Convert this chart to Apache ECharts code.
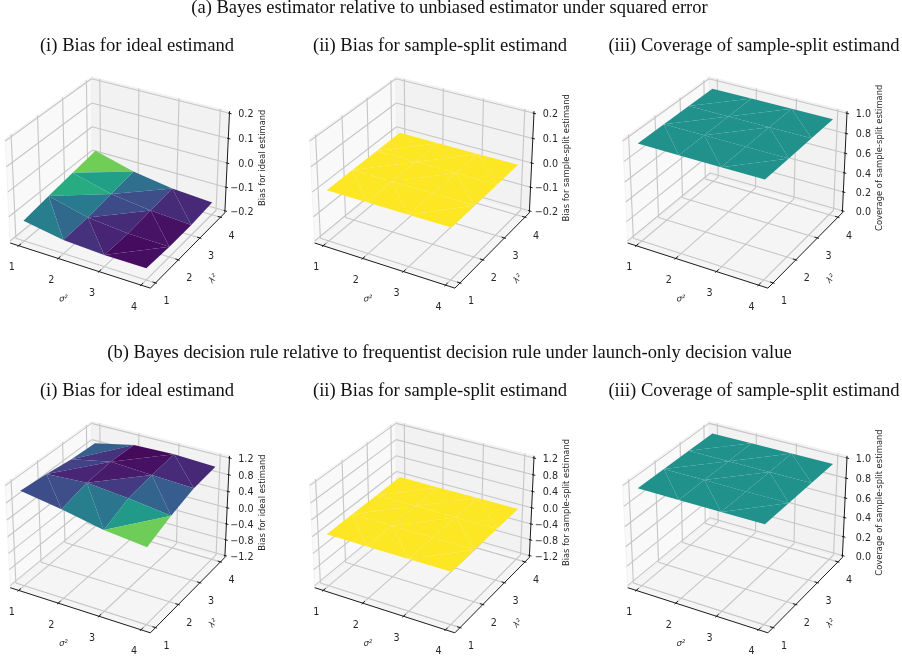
<!DOCTYPE html>
<html><head><meta charset="utf-8"><style>html,body{margin:0;padding:0;background:#fff}#c{width:902px;height:662px}</style>
<script src="https://cdn.jsdelivr.net/npm/echarts@6/dist/echarts.min.js"></script></head>
<body><div id="c"></div>
<script>
// ---- data ----
const sigma2 = [1, 2, 3, 4];
const lambda2 = [1, 2, 3, 4];
// rows: lambda2 = 1..4, columns: sigma2 = 1..4
const biasIdealA = [
  [-0.124, -0.152, -0.161, -0.161],
  [-0.107, -0.147, -0.163, -0.166],
  [-0.091, -0.134, -0.155, -0.165],
  [-0.076, -0.120, -0.145, -0.157]];
const biasSplitA = [
  [0, 0, 0, 0],
  [0, 0, 0, 0],
  [0, 0, 0, 0],
  [0, 0, 0, 0]];
const coverageA = [
  [0.957, 0.957, 0.957, 0.957],
  [0.957, 0.957, 0.957, 0.957],
  [0.957, 0.957, 0.957, 0.957],
  [0.957, 0.957, 0.957, 0.957]];
const biasIdealB = [
  [1.042, 0.881, 0.684, 0.575],
  [0.980, 1.036, 0.936, 0.809],
  [0.891, 1.086, 1.025, 0.974],
  [0.853, 1.056, 1.078, 1.035]];
const biasSplitB = [
  [0.012, 0.012, 0.012, 0.012],
  [0.012, 0.012, 0.012, 0.012],
  [0.012, 0.012, 0.012, 0.012],
  [0.012, 0.012, 0.012, 0.012]];
const coverageB = [
  [0.957, 0.957, 0.957, 0.957],
  [0.957, 0.957, 0.957, 0.957],
  [0.957, 0.957, 0.957, 0.957],
  [0.957, 0.957, 0.957, 0.957]];
// cell diagonals of the triangulation, rows lambda2 = 1..3, columns sigma2 = 1..3
const cellDiagonals = [['B','B','A'],['A','A','B'],['A','A','B']];
const zTicksSmall = [-0.2, -0.1, 0, 0.1, 0.2];
const zTicksWide = [-1.2, -0.8, -0.4, 0, 0.4, 0.8, 1.2];
const zTicksCoverage = [0, 0.2, 0.4, 0.6, 0.8, 1];
const sectionTitles = ['(a) Bayes estimator relative to unbiased estimator under squared error',
  '(b) Bayes decision rule relative to frequentist decision rule under launch-only decision value'];
const panelTitles = ['(i) Bias for ideal estimand','(ii) Bias for sample-split estimand','(iii) Coverage of sample-split estimand'];
const zLabels = ['Bias for ideal estimand','Bias for sample-split estimand','Coverage of sample-split estimand'];
const viridis = ['#440154','#482475','#414487','#355f8d','#2a788e','#21918c','#22a884','#44bf70','#7ad151','#bddf26','#fde725'];

// ---- panels ----
const colX = [119.5, 424, 737], rowY = [177.3, 522];
const SX = 1349, SY = 1330, VIEW = [-0.08, 0.1];
const panels = [
  {c:0,r:0,z:biasIdealA,ticks:zTicksSmall,lim:[-0.2,0.2],col:[-0.166,-0.076],lab:0},
  {c:1,r:0,z:biasSplitA,ticks:zTicksSmall,lim:[-0.2,0.2],col:[-1,0],lab:1},
  {c:2,r:0,z:coverageA,ticks:zTicksCoverage,lim:[0,1],col:[0.907,1.007],lab:2},
  {c:0,r:1,z:biasIdealB,ticks:zTicksWide,lim:[-1.2,1.2],col:[1.086,0.575],lab:0},
  {c:1,r:1,z:biasSplitB,ticks:zTicksWide,lim:[-1.2,1.2],col:[-1,0],lab:1},
  {c:2,r:1,z:coverageB,ticks:zTicksCoverage,lim:[0,1],col:[0.907,1.007],lab:2}
];

// ---- matplotlib-style 3D projection (elev 30, azim -60) ----
const XL=[0.78125,4.21875], BX=1.1905, BZ=0.8929;
function project(x,y,z,zl){
  const dx=((x-XL[0])/(XL[1]-XL[0])-0.5)*BX, dy=((y-XL[0])/(XL[1]-XL[0])-0.5)*BX, dz=((z-zl[0])/(zl[1]-zl[0])-0.5)*BZ;
  const Xv=0.8660254*dx+0.5*dy, Yv=-0.25*dx+0.4330127*dy+0.8660254*dz, d=0.4330127*dx-0.75*dy+0.5*dz;
  return [Xv/(10-d), Yv/(10-d), d];
}
function viridisAt(t){
  t=Math.max(0,Math.min(1,t))*(viridis.length-1);
  const i=Math.min(Math.floor(t),viridis.length-2), f=t-i;
  const ch=s=>[1,3,5].map(k=>parseInt(s.substr(k,2),16));
  const A=ch(viridis[i]),B=ch(viridis[i+1]);
  return 'rgb('+A.map((v,k)=>Math.round(v+(B[k]-v)*f)).join(',')+')';
}
function fmtTick(v){ return (v<0?'\u2212':'')+Math.abs(v).toFixed(1); }

const grids=[],xAxes=[],yAxes=[],series=[];
const SANS='"DejaVu Sans"';
const fills={}, strokes={}, textStore={};

function polyItem(params,api){
  const n=api.value(0), pts=[];
  for(let i=0;i<n;i++) pts.push(api.coord([api.value(2+2*i),api.value(3+2*i)]));
  const st=strokes[params.seriesName];
  return {type:'polygon',shape:{points:pts},style:{fill:fills[params.seriesName][params.dataIndex],stroke:st||null,lineWidth:st?0.6:0},silent:true};
}
function lineItem(params,api){
  const a=api.coord([api.value(0),api.value(1)]), b=api.coord([api.value(2),api.value(3)]);
  return {type:'line',shape:{x1:a[0],y1:a[1],x2:b[0],y2:b[1]},style:{stroke:api.value(4)?'#111':'#c6c6c6',lineWidth:api.value(4)?0.95:1.1},silent:true};
}
function textItem(params,api){
  const p=api.coord([api.value(0),api.value(1)]);
  const t=textStore[params.seriesName][params.dataIndex];
  return {type:'text',x:p[0]+t.dx,y:p[1]+t.dy,rotation:t.rot||0,
    style:{text:t.s,font:t.font,fill:'#262626',align:t.align||'center',verticalAlign:'middle'},silent:true};
}

panels.forEach((p,idx)=>{
  const cx=colX[p.c], cy=rowY[p.r];
  const pixX=X=>cx+X*SX, pixY=Y=>cy-Y*SY;
  grids.push({left:pixX(VIEW[0]),top:pixY(VIEW[1]),width:(VIEW[1]-VIEW[0])*SX,height:(VIEW[1]-VIEW[0])*SY,show:false});
  const axisCommon={type:'value',min:VIEW[0],max:VIEW[1],show:false,scale:true};
  xAxes.push(Object.assign({gridIndex:idx},axisCommon));
  yAxes.push(Object.assign({gridIndex:idx},axisCommon));
  const r=p.lim[1]-p.lim[0], zl=[p.lim[0]-r/48,p.lim[1]+r/48];
  const P=(x,y,z)=>project(x,y,z,zl);
  const [x0,x1]=XL, y0=x0, y1=x1, z0=zl[0], z1=zl[1];
  const base={type:'custom',xAxisIndex:idx,yAxisIndex:idx,coordinateSystem:'cartesian2d',clip:false,silent:true};

  // panes
  const nP='pane'+idx;
  const panesDef=[
    {c:'#f9f9f9',v:[[x0,y0,z0],[x0,y1,z0],[x0,y1,z1],[x0,y0,z1]]},
    {c:'#f2f2f2',v:[[x0,y1,z0],[x1,y1,z0],[x1,y1,z1],[x0,y1,z1]]},
    {c:'#f5f5f5',v:[[x0,y0,z0],[x1,y0,z0],[x1,y1,z0],[x0,y1,z0]]}];
  fills[nP]=panesDef.map(d=>d.c);
  strokes[nP]='#ededed';
  series.push(Object.assign({name:nP,renderItem:polyItem,data:panesDef.map(d=>{const o=[4,0];d.v.forEach(q=>{const w=P(...q);o.push(w[0],w[1]);});return o;})},base));

  // grid lines and axes
  const seg=(a,b,k)=>{const A=P(...a),B=P(...b);return [A[0],A[1],B[0],B[1],k];};
  const lines=[];
  sigma2.forEach(t=>{lines.push(seg([t,y0,z0],[t,y1,z0],0),seg([t,y1,z0],[t,y1,z1],0));});
  lambda2.forEach(t=>{lines.push(seg([x1,t,z0],[x0,t,z0],0),seg([x0,t,z0],[x0,t,z1],0));});
  p.ticks.forEach(t=>{lines.push(seg([x0,y0,t],[x0,y1,t],0),seg([x0,y1,t],[x1,y1,t],0));});
  lines.push(seg([x0,y0,z0],[x1,y0,z0],1),seg([x1,y0,z0],[x1,y1,z0],1),seg([x1,y1,z0],[x1,y1,z1],1));
  sigma2.forEach(t=>lines.push(seg([t,y0-0.045,z0],[t,y0+0.09,z0],1)));
  lambda2.forEach(t=>lines.push(seg([x1+0.035,t,z0],[x1-0.07,t,z0],1)));
  p.ticks.forEach(t=>lines.push(seg([x1+0.05,y1,t],[x1-0.03,y1,t],1)));
  series.push(Object.assign({name:'lines'+idx,renderItem:lineItem,data:lines},base));

  // surface triangles
  const tris=[];
  cellDiagonals.forEach((row,j)=>row.forEach((diag,i)=>{
    const v=(a,b)=>[sigma2[a],lambda2[b],p.z[b][a]];
    const A=v(i,j),B=v(i+1,j),C=v(i,j+1),D=v(i+1,j+1);
    if(diag==='A'){tris.push([A,B,D],[A,D,C]);} else {tris.push([A,B,C],[B,D,C]);}
  }));
  const nT='surf'+idx;
  const triItems=tris.map(tr=>{
    const w=tr.map(q=>P(...q)), avg=(tr[0][2]+tr[1][2]+tr[2][2])/3;
    return {d:(w[0][2]+w[1][2]+w[2][2])/3, col:viridisAt((avg-p.col[0])/(p.col[1]-p.col[0])),
      o:[3,0,w[0][0],w[0][1],w[1][0],w[1][1],w[2][0],w[2][1]]};
  }).sort((a,b)=>a.d-b.d);
  fills[nT]=triItems.map(t=>t.col);
  series.push(Object.assign({name:nT,renderItem:polyItem,data:triItems.map(t=>t.o)},base));

  // texts
  const nX='text'+idx, tick='9.6px '+SANS;
  const texts=[], pos=[];
  const add=(q,o)=>{const w=P(...q);pos.push([w[0],w[1]]);texts.push(o);};
  sigma2.forEach(t=>add([t,y0,z0],{s:String(t),font:tick,dx:-7,dy:22}));
  lambda2.forEach(t=>add([x1,t,z0],{s:String(t),font:tick,dx:11,dy:19}));
  p.ticks.forEach(t=>{const w=P(x1,y1,t);
    pos.push([w[0],w[1]]);
    texts.push({s:fmtTick(t),font:tick,dx:cx+134-pixX(w[0]),dy:1.5,align:'right'});});
  add([(x0+x1)/2,y0,z0],{s:'\u03c3\u00b2',font:'italic 8.5px '+SANS,dx:-15,dy:34,rot:0.05});
  add([x1,(y0+y1)/2,z0],{s:'\u03bb\u00b2',font:'italic 8.5px '+SANS,dx:24,dy:30,rot:0.85});
  {const w=P(x1,y1,0);
   pos.push([w[0],w[1]]);
   texts.push({s:zLabels[p.lab],font:'8.4px '+SANS,dx:cx+143-pixX(w[0]),dy:cy-19.5-pixY(w[1]),rot:Math.PI/2});}
  textStore[nX]=texts;
  series.push(Object.assign({name:nX,renderItem:textItem,data:pos},base));
});

const SERIF='"Liberation Serif"';
const titles=[];
const secY=[-1,344], subY=[37,382];
sectionTitles.forEach((s,i)=>titles.push({text:s,left:449.5,top:secY[i],textAlign:'center',padding:0,
  textStyle:{fontFamily:SERIF,fontWeight:'normal',fontSize:18.5,color:'#111'}}));
[137,440,754].forEach((x,c)=>subY.forEach(y=>titles.push({text:panelTitles[c],left:x,top:y,textAlign:'center',padding:0,
  textStyle:{fontFamily:SERIF,fontWeight:'normal',fontSize:18.6,color:'#111'}})));

const chart=echarts.init(document.getElementById('c'),null,{renderer:'canvas'});
chart.setOption({animation:false,backgroundColor:'#fff',tooltip:{show:false},title:titles,grid:grids,xAxis:xAxes,yAxis:yAxes,series:series});
</script></body></html>
